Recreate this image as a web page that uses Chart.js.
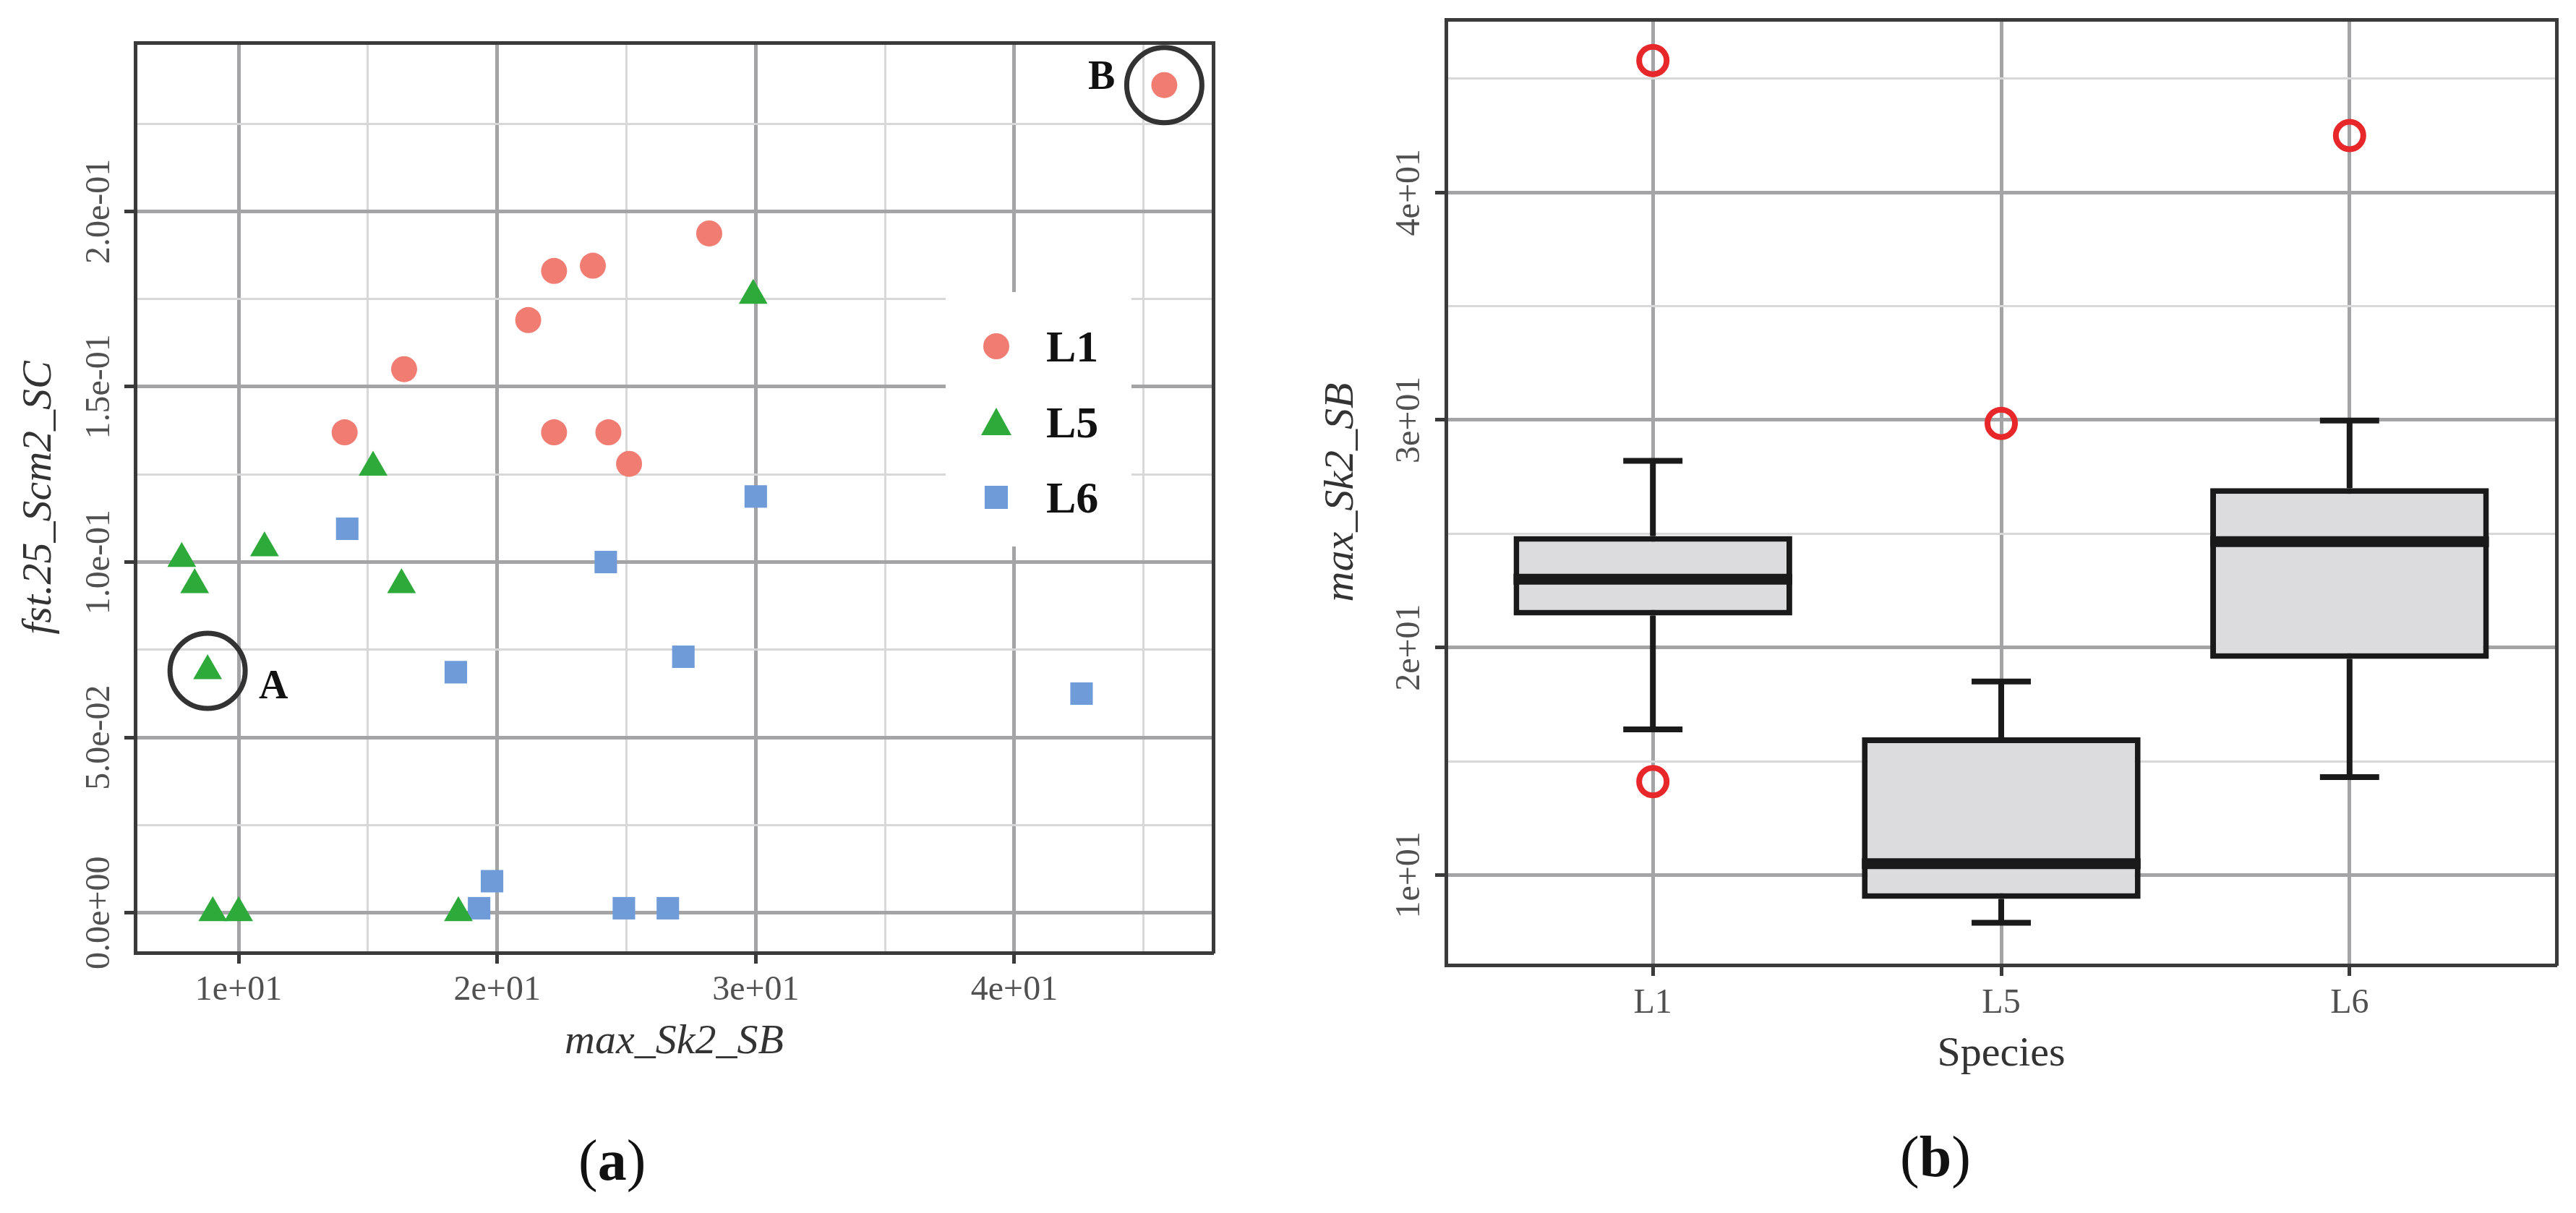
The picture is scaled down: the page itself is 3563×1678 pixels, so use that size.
<!DOCTYPE html>
<html><head><meta charset="utf-8">
<script src="https://cdn.jsdelivr.net/npm/chart.js@4.4.1/dist/chart.umd.min.js"></script>
<style>
html,body{margin:0;padding:0;background:#fff;width:3563px;height:1678px;overflow:hidden;font-family:"Liberation Serif",serif;}
canvas{position:absolute;top:0;}
.t{position:absolute;font-family:"Liberation Serif",serif;color:#111;white-space:nowrap;}
#legend{position:absolute;left:1308px;top:404px;width:257px;height:352px;background:#fff;}
.lr{position:absolute;left:0;height:80px;width:257px;}
.lr span{position:absolute;left:139px;top:0;font:bold 62px "Liberation Serif",serif;line-height:80px;color:#111;}
.lr svg{position:absolute;left:48px;top:18px;}
</style></head><body>
<canvas id="c1" width="1800" height="1678" style="left:0;width:1800px;height:1678px"></canvas>
<canvas id="c2" width="1763" height="1678" style="left:1800px;width:1763px;height:1678px"></canvas>
<div id="legend">
 <div class="lr" style="top:35px"><svg width="44" height="44"><circle cx="22" cy="22" r="18" fill="#f07c72"/></svg><span>L1</span></div>
 <div class="lr" style="top:140px"><svg width="44" height="44"><polygon points="22,2 43,40 1,40" fill="#2eaa3a"/></svg><span>L5</span></div>
 <div class="lr" style="top:244px"><svg width="44" height="44"><rect x="6" y="6" width="32" height="32" fill="#6f9bd8"/></svg><span>L6</span></div>
</div>
<div class="t" style="left:358px;top:915px;font:bold 56px 'Liberation Serif',serif;">A</div>
<div class="t" style="left:1505px;top:72px;font:bold 56px 'Liberation Serif',serif;">B</div>
<div class="t" style="left:800px;top:1560px;font-size:80px;">(<b>a</b>)</div>
<div class="t" style="left:2628px;top:1555px;font-size:80px;">(<b>b</b>)</div>
<script>
// ---------- data (a) ----------
const L1_x = [45.8, 28.2, 23.7, 22.2, 21.2, 16.4, 14.1, 22.2, 24.3, 25.1];
const L1_y = [0.236, 0.1937, 0.1845, 0.183, 0.169, 0.155, 0.137, 0.137, 0.137, 0.128];
const L5_x = [29.9, 15.2, 11.0, 7.8, 8.3, 16.3, 8.8, 9.0, 10.0, 18.5];
const L5_y = [0.176, 0.127, 0.104, 0.101, 0.0935, 0.0935, 0.069, 0.0, 0.0, 0.0];
const L6_x = [14.2, 30.0, 24.2, 18.4, 27.2, 42.6, 19.8, 19.3, 24.9, 26.6];
const L6_y = [0.1095, 0.1187, 0.100, 0.0686, 0.073, 0.0625, 0.009, 0.0013, 0.0013, 0.0013];
const highlight_x = [8.8, 45.8];
const highlight_y = [0.069, 0.236];
const xTicksA = [10,15,20,25,30,35,40,45];
const xLabelsA = {10:'1e+01',20:'2e+01',30:'3e+01',40:'4e+01'};
const yTicksA = [0,0.025,0.05,0.075,0.1,0.125,0.15,0.175,0.2,0.225];
const yLabelsA = {'0':'0.0e+00','0.05':'5.0e-02','0.1':'1.0e-01','0.15':'1.5e-01','0.2':'2.0e-01'};
// ---------- data (b) ----------
const species = ['L1','L5','L6'];
const whiskLo = [16.4, 7.9, 14.3];
const q1 = [21.4, 8.95, 19.5];
const med = [23.0, 10.5, 24.65];
const q3 = [24.9, 16.05, 27.0];
const whiskHi = [28.2, 18.5, 29.97];
const outlierSpecies = [0, 0, 1, 2];
const outlierVal = [45.8, 14.1, 29.85, 42.5];
const yTicksB = [10,15,20,25,30,35,40,45];
const yLabelsB = {10:'1e+01',20:'2e+01',30:'3e+01',40:'4e+01'};

Chart.defaults.font.family = '"Liberation Serif", serif';
const TICKFONT = {size:48, family:'"Liberation Serif", serif'};
const TITLEFONT = {size:58, family:'"Liberation Serif", serif'};
const MAJ='#a4a4a6', MIN='#d8d8d8', DARK='#3a3a3a';
function widest(labels){const c=document.createElement('canvas').getContext('2d');c.font='48px "Liberation Serif"';return Math.max(...labels.map(l=>c.measureText(l).width));}
const noBorder = {display:false,dash:[]};
const frameBorder = {display:true,color:DARK,width:5,dash:[38,28]};
function gridOpts(isMajor){return {offset:false,color:c=>isMajor(c.tick&&c.tick.value)?MAJ:MIN,lineWidth:c=>isMajor(c.tick&&c.tick.value)?5:3,tickLength:15,tickColor:c=>isMajor(c.tick&&c.tick.value)?DARK:'rgba(0,0,0,0)',tickWidth:5};}
function frameAxis(pos,horiz){return {position:pos,display:true,weight:-1,min:0,max:1,ticks:{display:false},grid:{display:false,drawTicks:false,offset:false},border:frameBorder,afterFit:s=>{if(horiz)s.height=0;else s.width=0;}};}
const pts=(xs,ys)=>xs.map((x,i)=>({x:x,y:ys[i]}));

// ---------- chart (a) ----------
const majA = v=>xLabelsA[v]!==undefined;
const majYA = v=>yLabelsA[String(+v.toFixed(3))]!==undefined;
const wA = widest(Object.values(yLabelsA));
new Chart(document.getElementById('c1'),{
 type:'scatter',
 data:{datasets:[
  {label:'L1',data:pts(L1_x,L1_y),pointStyle:'circle',pointRadius:18,backgroundColor:'#f07c72',borderWidth:0},
  {label:'L5',data:pts(L5_x,L5_y),pointStyle:'triangle',pointRadius:23,backgroundColor:'#2eaa3a',borderWidth:0},
  {label:'L6',data:pts(L6_x,L6_y),pointStyle:'rect',pointRadius:22,backgroundColor:'#6f9bd8',borderWidth:0},
  {label:'highlight',data:pts(highlight_x,highlight_y),pointStyle:'circle',pointRadius:52,backgroundColor:'rgba(0,0,0,0)',borderColor:'#333',borderWidth:7}
 ]},
 options:{responsive:false,animation:false,devicePixelRatio:1,
  layout:{padding:{left:0,top:45,right:122,bottom:201}},
  plugins:{legend:{display:false},tooltip:{enabled:false}},
  scales:{
   x:{type:'linear',position:'bottom',min:6.0,max:47.69,
      afterBuildTicks:s=>{s.ticks=xTicksA.map(v=>({value:v}));},
      afterFit:s=>{s.height=159;},
      ticks:{font:TICKFONT,color:'#505050',padding:9,maxRotation:0,autoSkip:false,callback:v=>xLabelsA[v]||''},
      grid:gridOpts(majA),border:noBorder,
      title:{display:true,text:'max_Sk2_SB',font:{...TITLEFONT,style:'italic'},color:'#333',padding:0}},
   y:{type:'linear',position:'left',min:-0.0114,max:0.2481,
      afterBuildTicks:s=>{s.ticks=yTicksA.map(v=>({value:v}));},
      afterFit:s=>{s.width=187;},
      ticks:{font:TICKFONT,color:'#505050',minRotation:90,maxRotation:90,crossAlign:'center',padding:49-15-wA/2,autoSkip:false,callback:v=>yLabelsA[String(+v.toFixed(3))]||''},
      grid:gridOpts(majYA),border:noBorder,
      title:{display:true,text:'fst.25_Scm2_SC',font:{...TITLEFONT,style:'italic'},color:'#333',padding:{top:20,bottom:0}}},
   fT:frameAxis('top',true), fB:frameAxis('bottom',true),
   fL:frameAxis('left',false), fR:frameAxis('right',false)
  }}
});

// ---------- chart (b) ----------
const seg=[],med_=[],caps=[];
species.forEach((s,i)=>{
 seg.push({x:i,y:q3[i]},{x:i,y:whiskHi[i]},{x:i,y:null},{x:i,y:q1[i]},{x:i,y:whiskLo[i]},{x:i,y:null});
 caps.push({x:i-0.085,y:whiskHi[i]},{x:i+0.085,y:whiskHi[i]},{x:i,y:null},{x:i-0.085,y:whiskLo[i]},{x:i+0.085,y:whiskLo[i]},{x:i,y:null});
 med_.push({x:i-0.4,y:med[i]},{x:i+0.4,y:med[i]},{x:i,y:null});
});
const majYB = v=>yLabelsB[v]!==undefined;
const wB = widest(Object.values(yLabelsB));
new Chart(document.getElementById('c2'),{
 type:'bar',
 data:{datasets:[
  {type:'line',label:'whiskers',data:seg,borderColor:'#1a1a1a',borderWidth:8,pointRadius:0,spanGaps:false,order:3},
  {type:'line',label:'caps',data:caps,borderColor:'#1a1a1a',borderWidth:8,pointRadius:0,spanGaps:false,order:3},
  {type:'bar',label:'box',data:species.map((s,i)=>({x:i,y:[q1[i],q3[i]]})),backgroundColor:'#dcdcde',borderColor:'#1a1a1a',borderWidth:8,borderSkipped:false,barPercentage:0.8,categoryPercentage:1,grouped:false,order:2},
  {type:'line',label:'median',data:med_,borderColor:'#1a1a1a',borderWidth:15,pointRadius:0,spanGaps:false,order:1},
  {type:'line',label:'outliers',data:outlierSpecies.map((s,i)=>({x:s,y:outlierVal[i]})),showLine:false,pointRadius:19,pointBorderWidth:8,pointBorderColor:'#e8272a',pointBackgroundColor:'rgba(0,0,0,0)',order:0}
 ]},
 options:{responsive:false,animation:false,devicePixelRatio:1,
  layout:{padding:{left:0,top:23,right:23,bottom:184}},
  plugins:{legend:{display:false},tooltip:{enabled:false}},
  scales:{
   x:{type:'linear',position:'bottom',min:-0.594,max:2.594,offset:false,
      afterBuildTicks:s=>{s.ticks=species.map((c,i)=>({value:i}));},
      afterFit:s=>{s.height=159;},
      ticks:{font:TICKFONT,color:'#505050',padding:10,maxRotation:0,autoSkip:false,callback:v=>species[v]||''},
      grid:{offset:false,color:MAJ,lineWidth:5,tickLength:15,tickColor:DARK,tickWidth:5},border:noBorder,
      title:{display:true,text:'Species',font:TITLEFONT,color:'#333',padding:0}},
   y:{type:'linear',position:'left',min:6.04,max:47.6,
      afterBuildTicks:s=>{s.ticks=yTicksB.map(v=>({value:v}));},
      afterFit:s=>{s.width=200;},
      ticks:{font:TICKFONT,color:'#505050',minRotation:90,maxRotation:90,crossAlign:'center',padding:50-15-wB/2,autoSkip:false,callback:v=>yLabelsB[v]||''},
      grid:gridOpts(majYB),border:noBorder,
      title:{display:true,text:'max_Sk2_SB',font:{...TITLEFONT,style:'italic'},color:'#333',padding:{top:21,bottom:0}}},
   fT:frameAxis('top',true), fB:frameAxis('bottom',true),
   fL:frameAxis('left',false), fR:frameAxis('right',false)
  }}
});
</script>
</body></html>
